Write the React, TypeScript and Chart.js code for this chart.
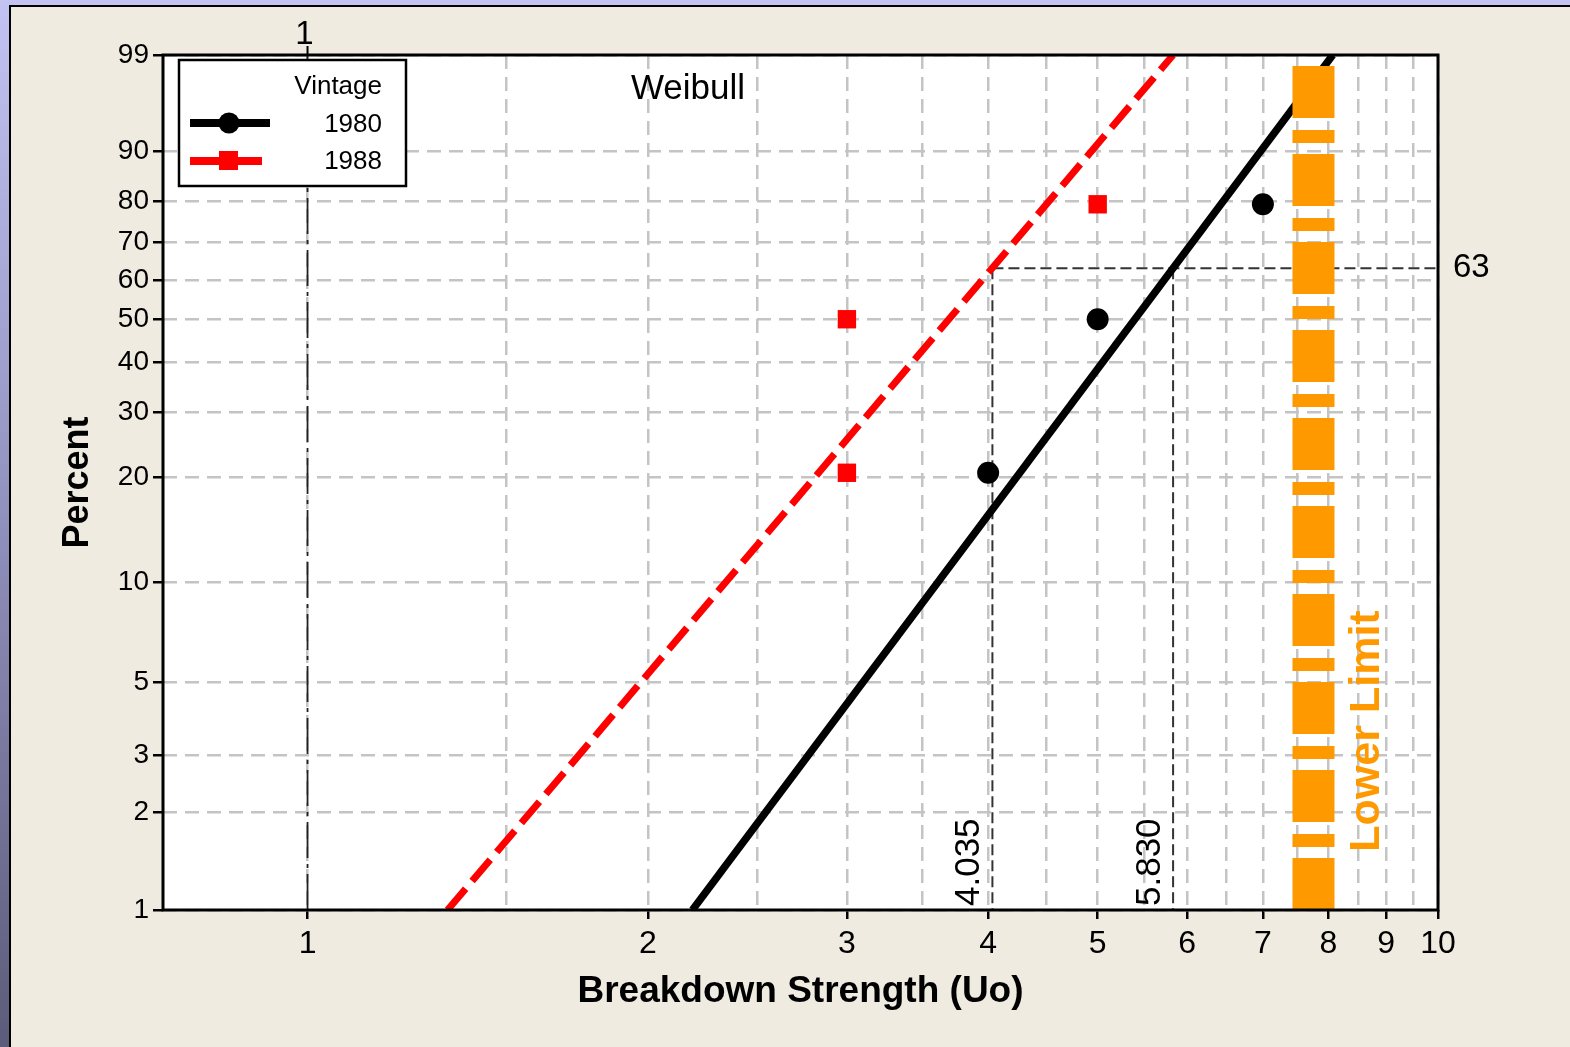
import React, { useEffect, useRef } from "react";
import { Chart, registerables } from "chart.js";

Chart.register(...registerables);

// ---- data ----
const vintages = ["1980", "1988"];
const strength1980 = [4, 5, 7];
const percent1980 = [20.6, 50, 79.4];
const strength1988 = [3, 3, 5];
const percent1988 = [20.6, 50, 79.4];
// fitted Weibull lines (end points at 1% and 99%)
const fitStrength1980 = [2.19, 8.07];
const fitPercent1980 = [1, 99];
const fitStrength1988 = [1.33, 5.83];
const fitPercent1988 = [1, 99];
// characteristic (63.2%) values
const etaValues = [4.035, 5.83];
const etaLabels = ["4.035", "5.830"];
const etaPercent = 63.2;
const lowerLimitStrength = 7.76;
const referenceStrength = 1;
const xTickValues = [1, 1.5, 2, 2.5, 3, 3.5, 4, 4.5, 5, 5.5, 6, 6.5, 7, 7.5, 8, 8.5, 9, 9.5, 10];
const xTickLabels = ["1", "", "2", "", "3", "", "4", "", "5", "", "6", "", "7", "", "8", "", "9", "", "10"];
const yTickValues = [1, 2, 3, 5, 10, 20, 30, 40, 50, 60, 70, 80, 90, 99];
const yTickLabels = ["1", "2", "3", "5", "10", "20", "30", "40", "50", "60", "70", "80", "90", "99"];
const xMin = 0.745;
const xMax = 10;
const yMinPercent = 1;
const yMaxPercent = 99;

const FONT = "'Liberation Sans', Arial, sans-serif";

// Weibull probability transform
const wb = (p: number) => Math.log(-Math.log(1 - p / 100));

const pts = (xs: number[], ps: number[]) => xs.map((x, i) => ({ x, y: wb(ps[i]) }));

const overlay = {
  id: "overlay",
  beforeDraw(chart: any) {
    const { ctx, chartArea: a } = chart;
    ctx.save();
    ctx.fillStyle = "#ffffff";
    ctx.fillRect(a.left, a.top, a.right - a.left, a.bottom - a.top);
    ctx.restore();
  },
  afterDatasetsDraw(chart: any) {
    const { ctx, chartArea: a } = chart;
    const xs = chart.scales.x;
    const ys = chart.scales.y;
    ctx.save();
    // frame
    ctx.strokeStyle = "#000";
    ctx.lineWidth = 3;
    ctx.strokeRect(a.left, a.top, a.right - a.left, a.bottom - a.top);

    // top marker for reference strength 1
    const x1 = xs.getPixelForValue(referenceStrength);
    ctx.lineWidth = 2;
    ctx.beginPath();
    ctx.moveTo(x1, a.top - 9);
    ctx.lineTo(x1, a.top);
    ctx.stroke();
    ctx.fillStyle = "#000";
    ctx.font = `33px ${FONT}`;
    ctx.textAlign = "center";
    ctx.textBaseline = "middle";
    ctx.fillText("1", x1 - 3, a.top - 20);

    // 63 label
    ctx.textAlign = "left";
    ctx.fillText("63", a.right + 15, ys.getPixelForValue(wb(etaPercent)));

    // eta labels (rotated)
    ctx.font = `35px ${FONT}`;
    etaValues.forEach((v, i) => {
      const px = xs.getPixelForValue(v);
      ctx.save();
      ctx.translate(px - 23, a.bottom - 4);
      ctx.rotate(-Math.PI / 2);
      ctx.textAlign = "left";
      ctx.textBaseline = "middle";
      ctx.fillText(etaLabels[i], 0, 0);
      ctx.restore();
    });

    // Weibull
    ctx.font = `35px ${FONT}`;
    ctx.textAlign = "center";
    ctx.fillText("Weibull", 688, 89);

    // Lower Limit
    ctx.save();
    ctx.fillStyle = "#ff9900";
    ctx.font = `bold 43px ${FONT}`;
    ctx.translate(xs.getPixelForValue(lowerLimitStrength) + 54, 731);
    ctx.rotate(-Math.PI / 2);
    ctx.textAlign = "center";
    ctx.textBaseline = "middle";
    ctx.fillText("Lower Limit", 0, 0);
    ctx.restore();

    // legend
    const lx = a.left + 16;
    const ly = a.top + 5;
    const lw = 227;
    const lh = 126;
    ctx.fillStyle = "#fff";
    ctx.fillRect(lx, ly, lw, lh);
    ctx.strokeStyle = "#000";
    ctx.lineWidth = 2.5;
    ctx.strokeRect(lx, ly, lw, lh);
    ctx.fillStyle = "#000";
    ctx.font = `26px ${FONT}`;
    ctx.textAlign = "right";
    ctx.textBaseline = "middle";
    ctx.fillText("Vintage", lx + 203, ly + 27);
    ctx.fillText(vintages[0], lx + 203, ly + 65);
    ctx.fillText(vintages[1], lx + 203, ly + 102);
    // sample 1980
    ctx.strokeStyle = "#000";
    ctx.lineWidth = 8;
    ctx.beginPath();
    ctx.moveTo(lx + 11, ly + 63);
    ctx.lineTo(lx + 91, ly + 63);
    ctx.stroke();
    ctx.beginPath();
    ctx.arc(lx + 50, ly + 63, 10.5, 0, Math.PI * 2);
    ctx.fill();
    // sample 1988
    ctx.strokeStyle = "#ff0000";
    ctx.fillStyle = "#ff0000";
    ctx.beginPath();
    ctx.moveTo(lx + 11, ly + 101);
    ctx.lineTo(lx + 83, ly + 101);
    ctx.stroke();
    ctx.fillRect(lx + 40, ly + 91, 19, 19);
    ctx.restore();
  },
};

export default function App() {
  const ref = useRef<HTMLCanvasElement | null>(null);

  useEffect(() => {
    if (!ref.current) return;
    const chart = new Chart(ref.current, {
      type: "scatter",
      data: {
        datasets: [
          {
            label: "Lower Limit",
            data: [
              { x: lowerLimitStrength, y: wb(yMinPercent) },
              { x: lowerLimitStrength, y: wb(yMaxPercent) },
            ],
            showLine: true,
            borderColor: "#ff9900",
            borderWidth: 42,
            borderDash: [52, 11, 13, 12],
            borderCapStyle: "butt",
            pointRadius: 0,
          },
          {
            label: vintages[0] + " points",
            data: pts(strength1980, percent1980),
            showLine: false,
            pointStyle: "circle",
            pointRadius: 11,
            backgroundColor: "#000",
            borderColor: "#000",
            borderWidth: 0,
          },
          {
            label: vintages[1] + " points",
            data: pts(strength1988, percent1988),
            showLine: false,
            pointStyle: "rect",
            pointRadius: 13,
            backgroundColor: "#ff0000",
            borderColor: "#ff0000",
            borderWidth: 0,
          },
          {
            label: vintages[0],
            data: pts(fitStrength1980, fitPercent1980),
            showLine: true,
            borderColor: "#000",
            borderWidth: 7.5,
            pointRadius: 0,
          },
          {
            label: vintages[1],
            data: pts(fitStrength1988, fitPercent1988),
            showLine: true,
            borderColor: "#ff0000",
            borderWidth: 7,
            borderDash: [28, 10],
            pointRadius: 0,
          },
          {
            label: "eta 63",
            data: [
              { x: etaValues[0], y: wb(etaPercent) },
              { x: xMax, y: wb(etaPercent) },
            ],
            showLine: true,
            borderColor: "#333",
            borderWidth: 2,
            borderDash: [11, 5],
            pointRadius: 0,
          },
          {
            label: "eta 1988",
            data: [
              { x: etaValues[0], y: wb(etaPercent) },
              { x: etaValues[0], y: wb(yMinPercent) },
            ],
            showLine: true,
            borderColor: "#333",
            borderWidth: 2,
            borderDash: [11, 5],
            pointRadius: 0,
          },
          {
            label: "eta 1980",
            data: [
              { x: etaValues[1], y: wb(etaPercent) },
              { x: etaValues[1], y: wb(yMinPercent) },
            ],
            showLine: true,
            borderColor: "#333",
            borderWidth: 2,
            borderDash: [11, 5],
            pointRadius: 0,
          },
          {
            label: "ref 1",
            data: [
              { x: referenceStrength, y: wb(yMinPercent) },
              { x: referenceStrength, y: wb(yMaxPercent) },
            ],
            showLine: true,
            borderColor: "#222",
            borderWidth: 1.8,
            borderDash: [36, 6, 4, 6],
            pointRadius: 0,
          },
        ],
      },
      options: {
        animation: false,
        responsive: false,
        devicePixelRatio: 1,
        events: [],
        layout: { padding: { left: 0, right: 132, top: 55, bottom: 0 } },
        plugins: { legend: { display: false }, tooltip: { enabled: false } },
        scales: {
          x: {
            type: "logarithmic",
            bounds: "data",
            min: xMin,
            max: xMax,
            afterBuildTicks: (s: any) => {
              s.ticks = xTickValues.map((v) => ({ value: v }));
            },
            afterFit: (s: any) => {
              s.height = 137;
            },
            ticks: {
              autoSkip: false,
              maxRotation: 0,
              padding: 6,
              color: "#000",
              font: { family: FONT, size: 32 },
              callback: (_v: any, i: number) => xTickLabels[i],
            },
            grid: {
              color: "#c4c4c4",
              lineWidth: 2.5,
              tickLength: 9,
              tickWidth: 2.5,
              tickColor: (c: any) =>
                c.tick && Number.isInteger(c.tick.value) ? "#000" : "rgba(0,0,0,0)",
            },
            border: { display: false, dash: [14, 8] },
            title: {
              display: true,
              text: "Breakdown Strength (Uo)",
              color: "#000",
              font: { family: FONT, size: 37, weight: "bold" },
              padding: { top: 0, bottom: 33 },
            },
          },
          y: {
            type: "linear",
            min: wb(yMinPercent),
            max: wb(yMaxPercent),
            afterBuildTicks: (s: any) => {
              s.ticks = yTickValues.map((p) => ({ value: wb(p) }));
            },
            afterFit: (s: any) => {
              s.width = 163;
            },
            ticks: {
              autoSkip: false,
              padding: 4,
              color: "#000",
              font: { family: FONT, size: 28 },
              callback: (_v: any, i: number) => yTickLabels[i],
            },
            grid: {
              color: "#c4c4c4",
              lineWidth: 2.5,
              tickLength: 10,
              tickWidth: 2.5,
              tickColor: "#000",
            },
            border: { display: false, dash: [14, 8] },
            title: {
              display: true,
              text: "Percent",
              color: "#000",
              font: { family: FONT, size: 36, weight: "bold" },
              padding: { top: 56, bottom: 0 },
            },
          },
        },
      },
      plugins: [overlay],
    } as any);
    return () => chart.destroy();
  }, []);

  return (
    <div
      style={{
        position: "fixed",
        left: 0,
        top: 0,
        width: 1570,
        height: 1047,
        overflow: "hidden",
        background: "linear-gradient(to bottom, #c3c3f3 0%, #9090bd 50%, #5b5b7a 100%)",
      }}
    >
      <div
        style={{
          position: "absolute",
          left: 9,
          top: 0,
          right: 0,
          height: 5,
          background: "#c3c3f3",
        }}
      />
      <div
        style={{
          position: "absolute",
          left: 9,
          top: 5,
          right: 0,
          bottom: 0,
          borderTop: "2px solid #000",
          borderLeft: "2px solid #000",
          background: "#efebe1",
        }}
      />
      <canvas
        ref={ref}
        width={1570}
        height={1047}
        style={{ position: "absolute", left: 0, top: 0, width: 1570, height: 1047 }}
      />
    </div>
  );
}
